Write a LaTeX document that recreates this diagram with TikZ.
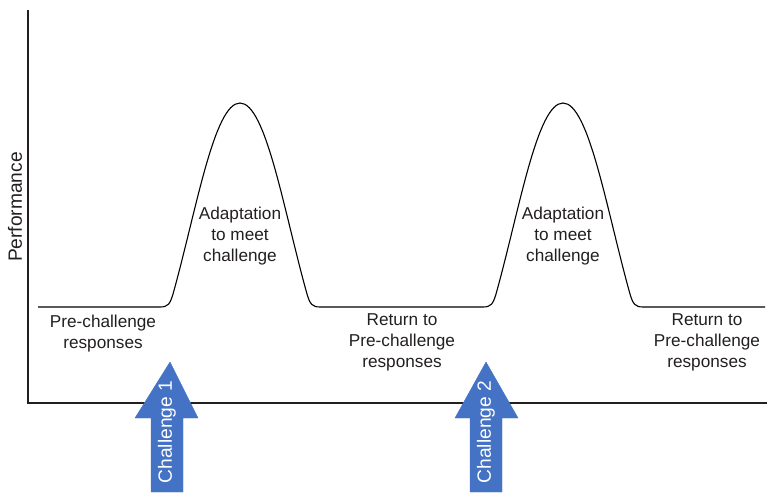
\documentclass[tikz,border=0pt]{standalone}
\usepackage{fontspec}
\setmainfont{Liberation Sans}
\definecolor{arrowblue}{RGB}{68,114,196}
\definecolor{txt}{RGB}{35,31,32}
\begin{document}
\begin{tikzpicture}[x=1pt,y=-1pt,
  lbl/.style={align=center,font=\fontsize{17.2}{21}\selectfont,text=txt,inner sep=0pt},
  biglbl/.style={font=\fontsize{19.2}{23}\selectfont,inner sep=0pt},
  axisline/.style={line width=1.5pt,draw=txt},
  curveline/.style={line width=1.1pt,draw=black},
  chal/.style={fill=arrowblue,draw=arrowblue,line width=0.4pt}]
\useasboundingbox (0,0) rectangle (767,492);
% axes
\coordinate (ytop) at (28,10);
\coordinate (origin) at (28,403);
\coordinate (xend) at (767,403);
\draw[axisline] (ytop) -- (origin) -- (xend);
\node[biglbl,text=txt,rotate=90] (perf) at (15,207) {Performance};
% performance curve
\draw[curveline] (38,307) -- (160,307)
  .. controls (168,307) and (170,304) .. (173,294)
  .. controls (196,212) and (214,103) .. (240,103)
  .. controls (266,103) and (284,212) .. (307,294)
  .. controls (310,304) and (312,307) .. (320,307)
  -- (483,307)
  .. controls (491,307) and (493,304) .. (496,294)
  .. controls (519,212) and (537,103) .. (563,103)
  .. controls (589,103) and (607,212) .. (630,294)
  .. controls (633,304) and (635,307) .. (643,307)
  -- (765,307);
% labels
\node[lbl] (adapt1) at (240,236) {Adaptation\\to meet\\challenge};
\node[lbl] (adapt2) at (563,236) {Adaptation\\to meet\\challenge};
\node[lbl] (pre) at (103,334) {Pre-challenge\\responses};
\node[lbl] (ret1) at (402,342) {Return to\\Pre-challenge\\responses};
\node[lbl] (ret2) at (707,342) {Return to\\Pre-challenge\\responses};
% challenge arrows
\fill[chal] (170,362) -- (198,418) -- (183,418) -- (183,492) -- (151,492) -- (151,418) -- (135,418) -- cycle;
\node[biglbl,rotate=90,text=white] (c1) at (167,432) {Challenge 1};
\fill[chal] (486,362) -- (518,418) -- (502,418) -- (502,492) -- (470,492) -- (470,418) -- (455,418) -- cycle;
\node[biglbl,rotate=90,text=white] (c2) at (486,432) {Challenge 2};
\end{tikzpicture}
\end{document}
